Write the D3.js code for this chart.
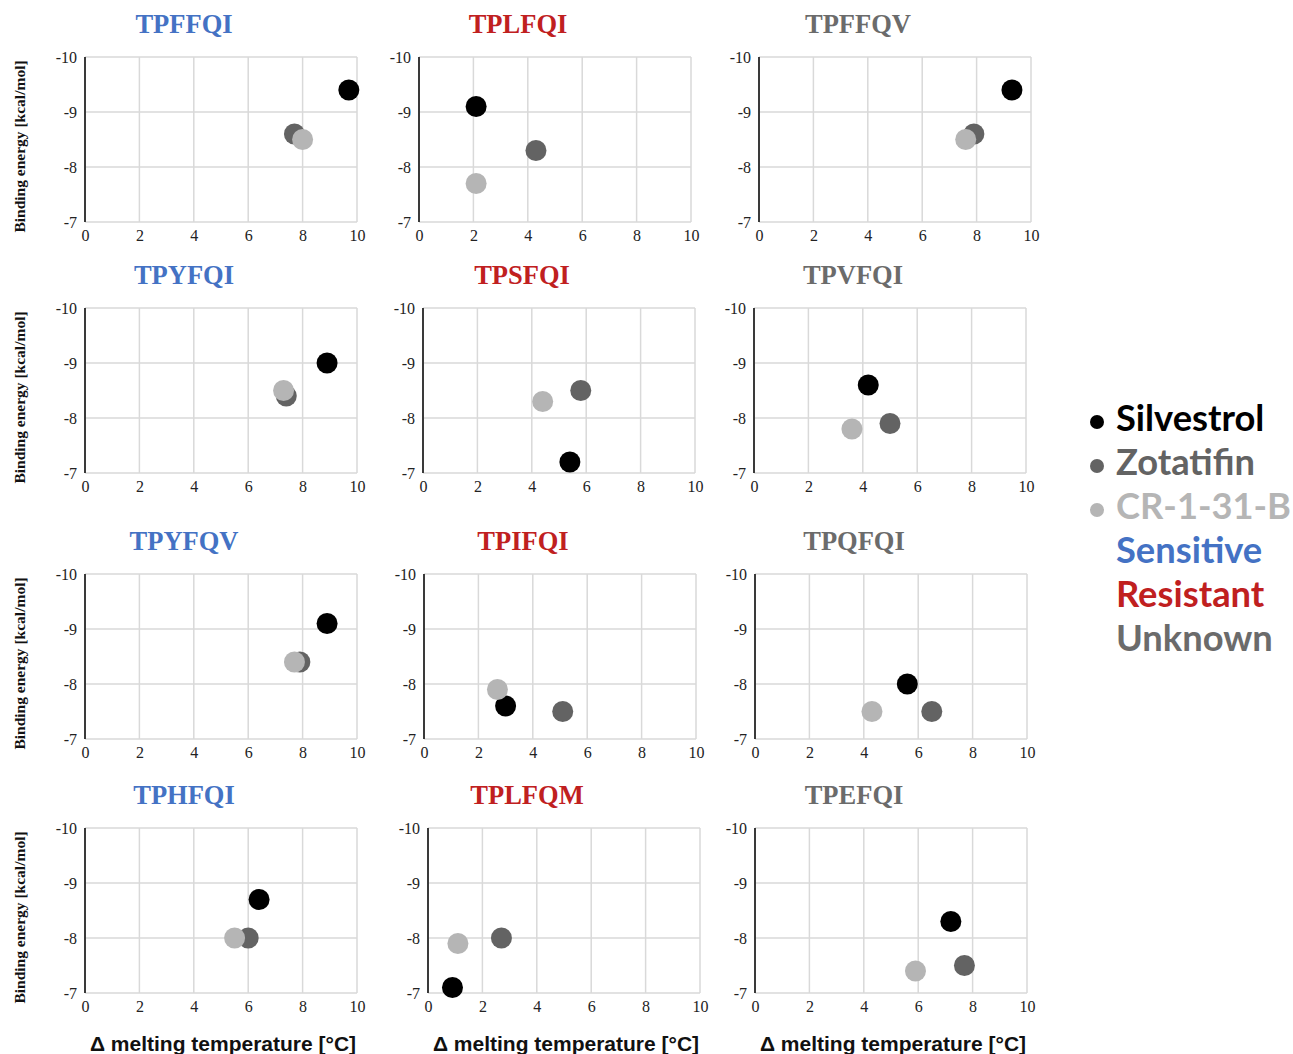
<!DOCTYPE html>
<html><head><meta charset="utf-8">
<script src="https://cdn.jsdelivr.net/npm/d3@7"></script>
<style>
html,body{margin:0;padding:0;background:#fff;}
svg{display:block;}
</style></head>
<body>
<svg id="chart" width="1293" height="1054"></svg>
<script>
// ---- data ----
const panelNames = ["TPFFQI","TPLFQI","TPFFQV","TPYFQI","TPSFQI","TPVFQI","TPYFQV","TPIFQI","TPQFQI","TPHFQI","TPLFQM","TPEFQI"];
const panelStatus = ["Sensitive","Resistant","Unknown","Sensitive","Resistant","Unknown","Sensitive","Resistant","Unknown","Sensitive","Resistant","Unknown"];
const compounds = ["Silvestrol","Zotatifin","CR-1-31-B"];
const statuses = ["Sensitive","Resistant","Unknown"];
const silvestrolTm = [9.7,2.1,9.3,8.9,5.4,4.2,8.9,3.0,5.6,6.4,0.9,7.2];
const silvestrolE  = [-9.4,-9.1,-9.4,-9.0,-7.2,-8.6,-9.1,-7.6,-8.0,-8.7,-7.1,-8.3];
const zotatifinTm  = [7.7,4.3,7.9,7.4,5.8,5.0,7.9,5.1,6.5,6.0,2.7,7.7];
const zotatifinE   = [-8.6,-8.3,-8.6,-8.4,-8.5,-7.9,-8.4,-7.5,-7.5,-8.0,-8.0,-7.5];
const cr131bTm     = [8.0,2.1,7.6,7.3,4.4,3.6,7.7,2.7,4.3,5.5,1.1,5.9];
const cr131bE      = [-8.5,-7.7,-8.5,-8.5,-8.3,-7.8,-8.4,-7.9,-7.5,-8.0,-7.9,-7.4];
const xTicks = [0,2,4,6,8,10];
const yTicks = [-10,-9,-8,-7];
const xLabel = "Δ melting temperature [°C]";
const yLabel = "Binding energy [kcal/mol]";

// ---- layout / styles ----
const panelLeft = [85,419,759, 85,423,754, 85,424,755, 85,428,755];
const rowTop = [57,308,574,828];
const PW = 272, PH = 165;
const compoundColor = {"Silvestrol":"#000000","Zotatifin":"#636363","CR-1-31-B":"#b5b5b5"};
const statusColor = {"Sensitive":"#4472c4","Resistant":"#c0201f","Unknown":"#6b6b6b"};
const serif = "'Liberation Serif','Times New Roman',serif";

const seriesX = [silvestrolTm, zotatifinTm, cr131bTm];
const seriesY = [silvestrolE, zotatifinE, cr131bE];

const svg = d3.select("#chart");
const x = d3.scaleLinear().domain([0,10]).range([0,PW]);
const y = d3.scaleLinear().domain([-10,-7]).range([0,PH]);
const fmt = d => String(d);

panelNames.forEach((name,i)=>{
  const col = i%3, row = Math.floor(i/3);
  const left = panelLeft[i], top = rowTop[row];
  const g = svg.append("g").attr("transform",`translate(${left},${top})`);

  // grid
  g.selectAll("line.vg").data(xTicks).join("line").attr("class","vg")
    .attr("x1",d=>x(d)).attr("x2",d=>x(d)).attr("y1",0).attr("y2",PH)
    .attr("stroke","#d9d9d9").attr("stroke-width",1.5);
  g.selectAll("line.hg").data(yTicks).join("line").attr("class","hg")
    .attr("x1",0).attr("x2",PW).attr("y1",d=>y(d)).attr("y2",d=>y(d))
    .attr("stroke","#d9d9d9").attr("stroke-width",1.5);
  g.append("line").attr("x1",0).attr("x2",0).attr("y1",0).attr("y2",PH)
    .attr("stroke","#3a3a3a").attr("stroke-width",2);

  // axes
  const ax = g.append("g").attr("transform",`translate(0,${PH})`)
    .call(d3.axisBottom(x).tickValues(xTicks).tickSize(0).tickPadding(8).tickFormat(fmt));
  const ay = g.append("g")
    .call(d3.axisLeft(y).tickValues(yTicks).tickSize(0).tickPadding(8).tickFormat(fmt));
  [ax,ay].forEach(a=>{
    a.select(".domain").remove();
    a.attr("font-family",serif).attr("font-size",16);
    a.selectAll("text").style("font-family",serif).style("font-size","16px").attr("fill","#222");
  });

  // points
  const pts = compounds.map((c,k)=>({c, tm:seriesX[k][i], e:seriesY[k][i]}));
  g.selectAll("circle").data(pts).join("circle")
    .attr("cx",d=>x(d.tm)).attr("cy",d=>y(d.e)).attr("r",10.5)
    .attr("fill",d=>compoundColor[d.c]);

  // title
  svg.append("text").attr("x",left+PW/2-37).attr("y",top-24)
    .attr("text-anchor","middle").attr("font-family",serif).attr("font-weight","bold")
    .attr("font-size",26.5).attr("fill",statusColor[panelStatus[i]]).text(name);

  // y label (first column)
  if(col===0){
    svg.append("text").attr("transform",`translate(25,${top+PH/2+7}) rotate(-90)`)
      .attr("text-anchor","middle").attr("font-family",serif).attr("font-weight","bold")
      .attr("font-size",15.5).attr("fill","#111").text(yLabel);
  }
  // x label (last row)
  if(row===3){
    svg.append("text").attr("x",left+PW/2+2).attr("y",1051)
      .attr("text-anchor","middle").attr("font-family","'Liberation Sans',Arial,sans-serif")
      .attr("font-weight","bold").attr("font-size",21).attr("fill","#111").text(xLabel);
  }
});

// legend
const legendItems = compounds.map(c=>({t:c,col:compoundColor[c],dot:true}))
  .concat(statuses.map(s=>({t:s,col:statusColor[s],dot:false})));
const lg = svg.append("g");
legendItems.forEach((d,k)=>{
  const by = 431 + k*44;
  if(d.dot) lg.append("circle").attr("cx",1097).attr("cy",by-9).attr("r",7).attr("fill",d.col);
  lg.append("text").attr("x",1116).attr("y",by).attr("font-family","Lato,sans-serif")
    .attr("font-weight","bold").attr("font-size",36.3).attr("fill",d.col).text(d.t);
});
</script>
</body></html>
